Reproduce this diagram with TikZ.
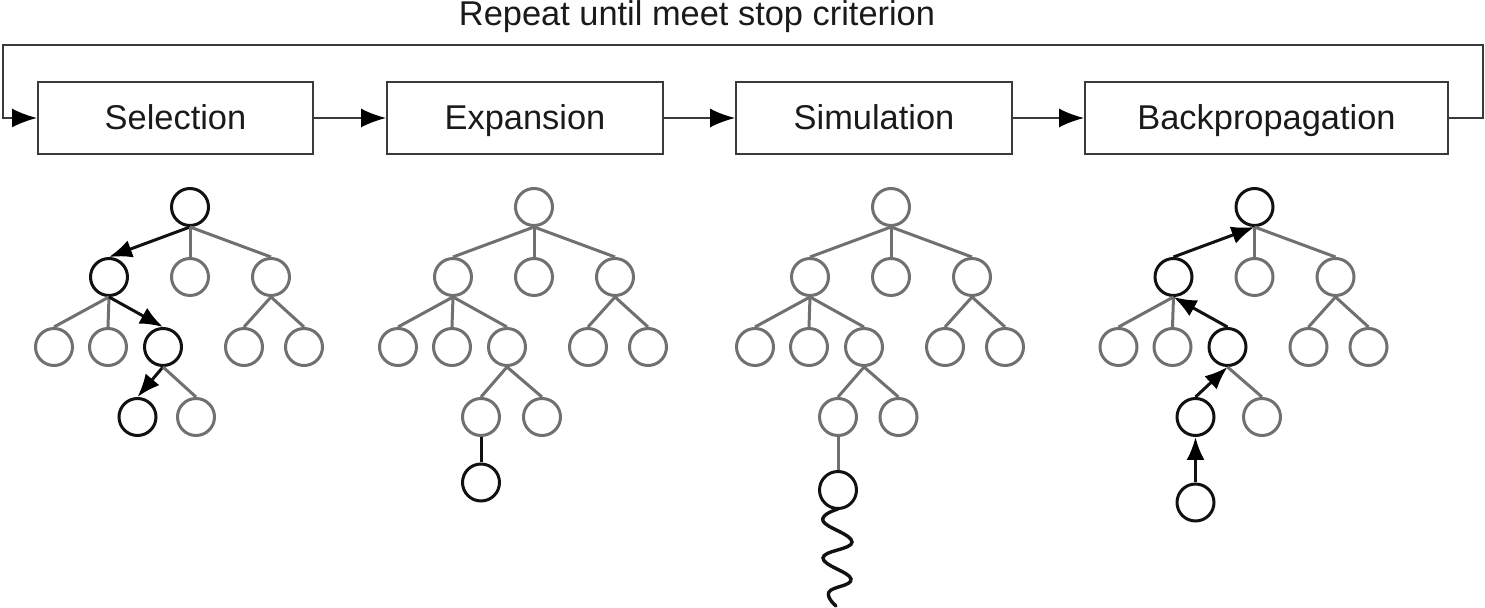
\documentclass[tikz,border=0pt]{standalone}
\usepackage{fontspec}
\setmainfont{Liberation Sans}
\usetikzlibrary{arrows.meta,calc}
\definecolor{boxc}{HTML}{3A3A3A}
\definecolor{txt}{HTML}{1A1A1A}
\definecolor{gr}{HTML}{707070}
\definecolor{blk}{HTML}{111111}
\newcommand\mctsTree[4]{% #1 prefix, #2 root x, #3 i offset from f, #4 j offset from f
  \node[nd,h#1r/.try] (#1r) at (#2,207) {};
  \node[nd,h#1a/.try] (#1a) at (#2-81,277) {};
  \node[nd,h#1b/.try] (#1b) at (#2,277) {};
  \node[nd,h#1c/.try] (#1c) at (#2+81,277) {};
  \node[nd,h#1d/.try] (#1d) at (#2-136,347) {};
  \node[nd,h#1e/.try] (#1e) at (#2-82,347) {};
  \node[nd,h#1f/.try] (#1f) at (#2-27,347) {};
  \node[nd,h#1g/.try] (#1g) at (#2+54,347) {};
  \node[nd,h#1h/.try] (#1h) at (#2+114,347) {};
  \node[nd,h#1i/.try] (#1i) at (#2-27+#3,417) {};
  \node[nd,h#1j/.try] (#1j) at (#2-27+#4,417) {};
  \draw[ed,e#1a/.try] (#1r.south) -- (#1a.north);
  \draw[ed,e#1b/.try] (#1r.south) -- (#1b.north);
  \draw[ed,e#1c/.try] (#1r.south) -- (#1c.north);
  \draw[ed,e#1d/.try] (#1a.south) -- (#1d.north);
  \draw[ed,e#1e/.try] (#1a.south) -- (#1e.north);
  \draw[ed,e#1f/.try] (#1a.south) -- (#1f.north);
  \draw[ed,e#1g/.try] (#1c.south) -- (#1g.north);
  \draw[ed,e#1h/.try] (#1c.south) -- (#1h.north);
  \draw[ed,e#1i/.try] (#1f.south) -- (#1i.north);
  \draw[ed,e#1j/.try] (#1f.south) -- (#1j.north);
}
\begin{document}
\begin{tikzpicture}[x=0.5pt,y=-0.5pt,
  box/.style={draw=boxc,line width=1pt,minimum height=36pt,inner sep=0pt,
    text height=14pt,text depth=2pt,
    font=\fontsize{17.2}{20}\selectfont,text=txt},
  bigtip/.tip={Latex[length=12.5pt,width=9.5pt,color=black]},
  smalltip/.tip={Latex[length=11.5pt,width=9pt,color=black]},
  flow/.style={draw=boxc,line width=0.9pt,-bigtip},
  nd/.style={circle,draw=gr,line width=1.5pt,minimum size=18.5pt,inner sep=0pt},
  hl/.style={draw=blk},
  ed/.style={draw=gr,line width=1.5pt},
  hed/.style={draw=blk,line width=1.5pt},
  down/.style={hed,-smalltip},
  up/.style={hed,smalltip-},
  % Selection highlights
  hSr/.style=hl, hSa/.style=hl, hSf/.style=hl, hSi/.style=hl,
  eSa/.style=down, eSf/.style=down, eSi/.style=down,
  % Backpropagation highlights
  hBr/.style=hl, hBa/.style=hl, hBf/.style=hl, hBi/.style=hl,
  eBa/.style=up, eBf/.style=up, eBi/.style=up
]
\useasboundingbox (0,0) rectangle (1485,608);

% title
\node[font=\fontsize{17.2}{20}\selectfont,text=txt] (title) at (697,17) {Repeat until meet stop criterion};

% boxes
\node[box,minimum width=137.5pt] (sel) at (175.5,118) {Selection};
\node[box,minimum width=138pt] (exp) at (525,118) {Expansion};
\node[box,minimum width=138pt] (sim) at (874,118) {Simulation};
\node[box,minimum width=181.5pt] (bck) at (1266.5,118) {Backpropagation};

\draw[flow] (sel) -- (exp);
\draw[flow] (exp) -- (sim);
\draw[flow] (sim) -- (bck);

\coordinate (lr) at (1483,45);
\coordinate (ll) at (3,45);
\draw[draw=boxc,line width=1pt,-bigtip]
  (bck.east) -| (lr) -- (ll) |- (sel.west);

% trees
\mctsTree{S}{190}{-25.5}{33}
\mctsTree{E}{534}{-26}{35}
\mctsTree{M}{891}{-26}{34.5}
\mctsTree{B}{1254.5}{-32}{34.5}

% extra leaf nodes
\node[nd,hl] (Ek) at (481,482.5) {};
\draw[hed] (Ei.south) -- (Ek.north);

\node[nd,hl] (Mk) at (838,490) {};
\draw[ed] (Mi.south) -- (Mk.north);
\draw[blk,line width=1.7pt,line cap=round] (Mk.south) plot[smooth,tension=0.75] coordinates
  {(838,509) (823,521) (852,542) (823,558) (851,579) (829,592) (836,606)};

\node[nd,hl] (Bk) at (1195.5,502.5) {};
\draw[up] (Bi.south) -- (Bk.north);
\end{tikzpicture}
\end{document}
